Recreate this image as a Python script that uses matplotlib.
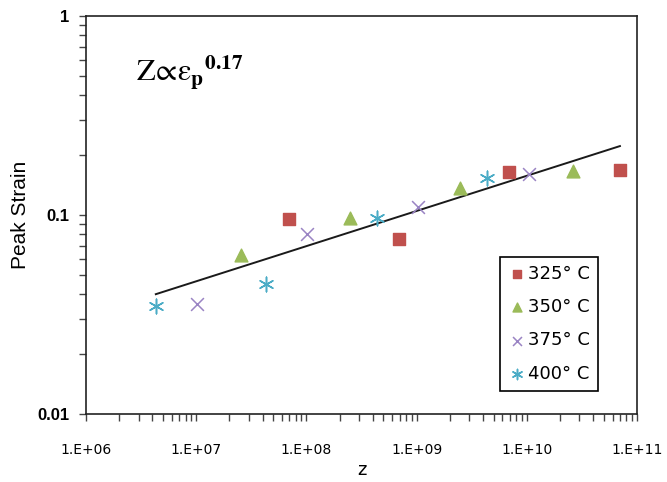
import matplotlib
matplotlib.use("Agg")
import matplotlib.pyplot as plt
from matplotlib.ticker import LogLocator, NullFormatter

# data
z_325 = [7.0e7, 6.9e8, 6.9e9, 7.0e10]
s_325 = [0.0955, 0.0758, 0.164, 0.168]
z_350 = [2.55e7, 2.5e8, 2.5e9, 2.6e10]
s_350 = [0.063, 0.0966, 0.137, 0.166]
z_375 = [1.02e7, 1.01e8, 1.02e9, 1.05e10]
s_375 = [0.0357, 0.080, 0.1097, 0.161]
z_400 = [4.3e6, 4.3e7, 4.35e8, 4.35e9]
s_400 = [0.0349, 0.045, 0.0966, 0.153]

# trend line end points
fit_z = [4.3e6, 7.0e10]
fit_s = [0.040, 0.222]

xticks = [1e6, 1e7, 1e8, 1e9, 1e10, 1e11]
xtick_labels = ["1.E+06", "1.E+07", "1.E+08", "1.E+09", "1.E+10", "1.E+11"]
yticks = [0.01, 0.1, 1]
ytick_labels = ["0.01", "0.1", "1"]

plt.rcParams["mathtext.fontset"] = "stix"

fig = plt.figure(figsize=(6.67, 4.82), dpi=100)
ax = fig.add_axes([86 / 667, 68 / 482, 551 / 667, 398 / 482])

ax.plot(fit_z, fit_s, color="#1a1a1a", lw=1.4, zorder=2)

ax.scatter(z_325, s_325, marker="s", s=85, color="#C0504D", label="325\u00b0 C", zorder=3)
ax.scatter(z_350, s_350, marker="^", s=85, color="#9BBB59", label="350\u00b0 C", zorder=3)
ax.scatter(z_375, s_375, marker="x", s=85, color="#9A84C4", linewidths=1.1,
           label="375\u00b0 C", zorder=3)
ax.scatter(z_400, s_400, marker=(6, 2, 0), s=110, color="#4BACC6", linewidths=1.1,
           label="400\u00b0 C", zorder=3)

ax.set_xscale("log")
ax.set_yscale("log")
ax.set_xlim(1e6, 1e11)
ax.set_ylim(0.01, 1)

ax.set_xticks(xticks)
ax.set_xticklabels(xtick_labels, fontsize=10, family="DejaVu Sans")
ax.set_yticks(yticks)
ax.set_yticklabels(ytick_labels, fontsize=12, family="Liberation Sans", fontweight="bold")
ax.xaxis.set_minor_locator(LogLocator(base=10, subs=range(2, 10), numticks=20))
ax.yaxis.set_minor_locator(LogLocator(base=10, subs=range(2, 10), numticks=20))
ax.xaxis.set_minor_formatter(NullFormatter())
ax.yaxis.set_minor_formatter(NullFormatter())

ax.tick_params(which="both", direction="out", length=5, width=1, color="#444444")
ax.tick_params(axis="x", which="major", pad=16)
ax.tick_params(axis="y", which="major", pad=7)
for sp in ax.spines.values():
    sp.set_linewidth(1.2)
    sp.set_color("#222222")

ax.set_xlabel("z", fontsize=13, family="DejaVu Sans", labelpad=3)
ax.set_ylabel("Peak Strain", fontsize=15, family="Liberation Sans", labelpad=5)

ax.text(0.09, 0.86, r"$\mathrm{Z\!\propto\!\varepsilon_{\mathbf{p}}}^{\mathbf{0.17}}$",
        transform=ax.transAxes, fontsize=22, ha="left", va="center")

leg = ax.legend(loc="lower right", bbox_to_anchor=(0.929, 0.058), borderaxespad=0,
                fancybox=False, edgecolor="black", framealpha=1, handletextpad=0.1,
                labelspacing=0.85, borderpad=0.45, handlelength=1.0, markerscale=0.7,
                prop={"family": "DejaVu Sans", "size": 13})
leg.get_frame().set_linewidth(1.2)

fig.savefig("out.png", dpi=100)
